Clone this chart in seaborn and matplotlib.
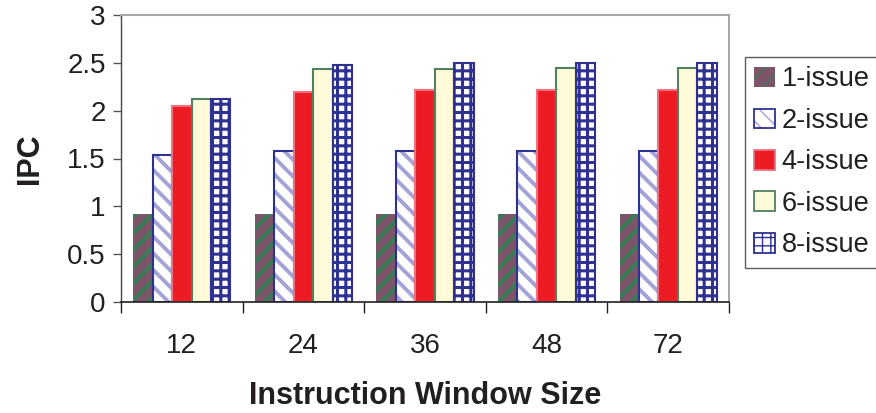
import numpy as np
import pandas as pd
import matplotlib
matplotlib.use("Agg")
import matplotlib.pyplot as plt
import matplotlib.patches as mpatches
from matplotlib.ticker import FixedLocator
import seaborn as sns

# Instruction window sizes and issue widths
windows = ["12", "24", "36", "48", "72"]
issues = ["1-issue", "2-issue", "4-issue", "6-issue", "8-issue"]

# IPC per issue width, one value per window size
ipc_1 = [0.92, 0.92, 0.92, 0.92, 0.92]
ipc_2 = [1.54, 1.58, 1.58, 1.58, 1.58]
ipc_4 = [2.05, 2.20, 2.22, 2.22, 2.22]
ipc_6 = [2.12, 2.44, 2.44, 2.45, 2.45]
ipc_8 = [2.12, 2.48, 2.50, 2.50, 2.50]

yticks = [0, 0.5, 1, 1.5, 2, 2.5, 3]
ytick_labels = ["0", "0.5", "1", "1.5", "2", "2.5", "3"]

series = [ipc_1, ipc_2, ipc_4, ipc_6, ipc_8]
df = pd.DataFrame({
    "window": np.repeat([windows], len(issues), axis=0).ravel(),
    "issue": np.repeat(issues, len(windows)),
    "ipc": np.concatenate(series),
})

# per-series styling: face, hatch colour, hatch, outline colour, hatch width
styles = {
    "1-issue": dict(fc="#7d5469", hc="#3d7a58", hatch="//", ec=None, hlw=3.2),
    "2-issue": dict(fc="#ffffff", hc="#a3a3d8", hatch="\\\\", ec="#2d3192", hlw=2.8),
    "4-issue": dict(fc="#ed1c24", hc="#ed1c24", hatch=None, ec="#f07080", hlw=1.0),
    "6-issue": dict(fc="#fffbd8", hc="#fffbd8", hatch=None, ec="#4f8060", hlw=1.0),
    "8-issue": dict(fc="#ffffff", hc="#2e3192", hatch="++", ec="#2e3192", hlw=2.2),
}

sns.set_theme(style="white")
plt.rcParams["font.family"] = ["Liberation Sans", "DejaVu Sans"]

fig = plt.figure(figsize=(8.76, 4.13), dpi=100)
ax = fig.add_axes([121 / 876, 1 - 302 / 413, (729 - 121) / 876, (302 - 15) / 413])

palette = {k: v["fc"] for k, v in styles.items()}
sns.barplot(data=df, x="window", y="ipc", hue="issue", order=windows,
            hue_order=issues, palette=palette, width=0.8, saturation=1,
            legend=False, ax=ax, errorbar=None)

for issue, cont in zip(issues, ax.containers):
    st = styles[issue]
    for bar in cont:
        bar.set_facecolor(st["fc"])
        bar.set_edgecolor(st["hc"])
        bar.set_linewidth(0)
        if st["hatch"]:
            bar.set_hatch(st["hatch"])
            if hasattr(bar, "set_hatch_linewidth"):
                bar.set_hatch_linewidth(st["hlw"])
        if st["ec"]:
            ax.add_patch(mpatches.Rectangle(bar.get_xy(), bar.get_width(),
                                            bar.get_height(), fill=False,
                                            edgecolor=st["ec"], linewidth=1.5,
                                            zorder=bar.get_zorder() + 0.1))

ax.set_xlim(-0.5, len(windows) - 0.5)
ax.set_ylim(0, 3)
ax.set_yticks(yticks)
ax.set_yticklabels(ytick_labels, fontsize=20, color="#231f20")
ax.set_xticks(range(len(windows)))
ax.set_xticklabels(windows, fontsize=20, color="#231f20")
ax.xaxis.set_minor_locator(FixedLocator(np.arange(-0.5, len(windows), 1.0)))
ax.tick_params(axis="x", which="major", length=0, pad=22)
ax.tick_params(axis="x", which="minor", length=8, width=1, color="#231f20",
               direction="out", bottom=True)
ax.tick_params(axis="y", length=6, width=1, color="#555555", direction="out",
               left=True, pad=5)

ax.set_ylabel("IPC", fontsize=22, fontweight="bold", color="#231f20", labelpad=16)
ax.set_xlabel("Instruction Window Size", fontsize=22, fontweight="bold",
              color="#231f20", labelpad=16)

for side in ["top", "right"]:
    ax.spines[side].set_color("#a8a8a8")
    ax.spines[side].set_linewidth(1.5)
ax.spines["left"].set_color("#444444")
ax.spines["left"].set_linewidth(1.0)
ax.spines["bottom"].set_color("#231f20")
ax.spines["bottom"].set_linewidth(1.2)

handles = []
for issue in issues:
    st = styles[issue]
    base = mpatches.Patch(facecolor=st["fc"], edgecolor=st["hc"], linewidth=0,
                          hatch=st["hatch"])
    if st["ec"]:
        outline = mpatches.Patch(fill=False, edgecolor=st["ec"], linewidth=1.3)
        handles.append((base, outline))
    else:
        handles.append(base)

leg = fig.legend(handles, issues, loc="upper left",
                 bbox_to_anchor=(745 / 876, 1 - 57 / 413), fontsize=19.5,
                 frameon=True, fancybox=False, handlelength=0.75,
                 handleheight=0.75, handletextpad=0.25, labelspacing=0.57,
                 borderpad=0.35, borderaxespad=0)
leg.get_frame().set_edgecolor("#333333")
leg.get_frame().set_linewidth(1.0)
for t in leg.get_texts():
    t.set_color("#231f20")

fig.savefig("out.png", dpi=100)
